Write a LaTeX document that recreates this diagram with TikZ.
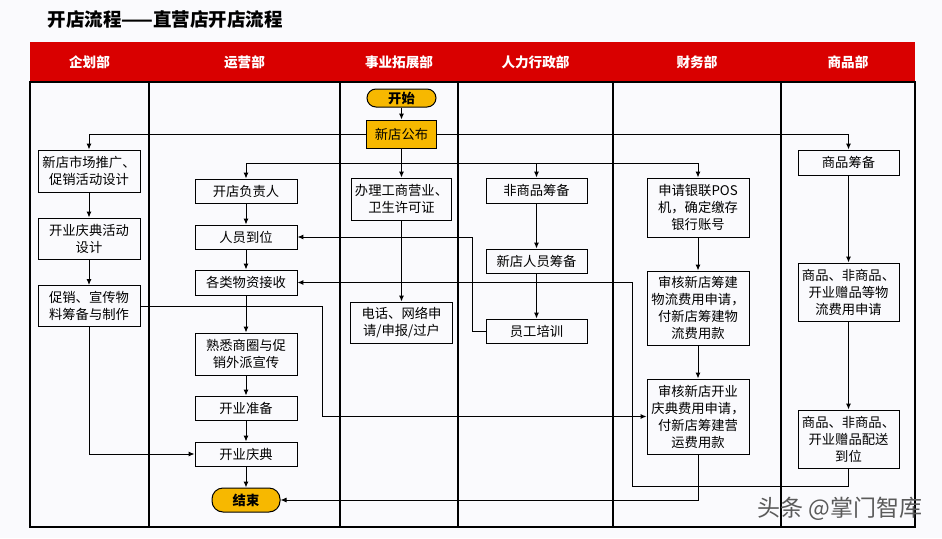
\documentclass[tikz,border=0pt]{standalone}
\usepackage{fontspec}
\setmainfont{Noto Sans CJK SC}
\usetikzlibrary{arrows.meta,calc}
\pgfdeclarelayer{bgl}
\pgfdeclarelayer{edges}
\pgfsetlayers{bgl,edges,main}
\definecolor{bgc}{RGB}{250,250,253}
\definecolor{hdr}{RGB}{217,0,0}
\definecolor{yel}{RGB}{247,184,0}
\definecolor{wm}{RGB}{90,90,90}
\begin{document}
\begin{tikzpicture}[x=1pt,y=-1pt,
  box/.style={draw=black, line width=0.9pt, fill=bgc, minimum width=102pt, inner sep=0pt, align=center, font=\fontsize{13.3}{17}\selectfont},
  pill/.style={draw=black, line width=1pt, fill=yel, rounded corners=9pt, inner sep=0pt, font=\bfseries\fontsize{13.3}{15}\selectfont},
  hd/.style={text=white, font=\bfseries\fontsize{13.6}{15}\selectfont},
  arr/.style={line width=1pt, -{Latex[length=6pt,width=5pt]}},
  ln/.style={line width=1pt},
  gridl/.style={line width=1.4pt}]
\useasboundingbox (0,0) rectangle (942,538);

% table
\begin{pgfonlayer}{bgl}
\fill[bgc] (0,0) rectangle (942,538);
\fill[hdr] (30,42) rectangle (915,82);
\draw[gridl] (30,82) rectangle (915,527);
\foreach \cx in {149,340,458,613,781} {\draw[gridl] (\cx,82) -- (\cx,527);}
\end{pgfonlayer}

% title
\node[anchor=west, font=\bfseries\fontsize{18.5}{21}\selectfont] (title) at (44,19) {开店流程——直营店开店流程};

\node[hd] (hA) at (89.5,62) {企划部};
\node[hd] (hB) at (244.5,62) {运营部};
\node[hd] (hC) at (399,62) {事业拓展部};
\node[hd] (hD) at (535.5,62) {人力行政部};
\node[hd] (hE) at (697,62) {财务部};
\node[hd] (hF) at (848,62) {商品部};

% nodes
\node[pill, minimum width=69pt, minimum height=18pt] (start) at (401.5,98) {开始};
\node[box, fill=yel, minimum width=70pt, minimum height=28pt] (pub) at (401.5,134) {新店公布};

\node[box, minimum height=42pt] (m1) at (89,171) {新店市场推广、\\促销活动设计};
\node[box, minimum height=41pt] (m2) at (89,238.5) {开业庆典活动\\设计};
\node[box, minimum height=41pt] (m3) at (89,306) {促销、宣传物\\料筹备与制作};

\node[box, minimum height=24pt] (o1) at (246,191) {开店负责人};
\node[box, minimum height=24pt] (o2) at (246,237) {人员到位};
\node[box, minimum height=25pt] (o3) at (246,282.5) {各类物资接收};
\node[box, minimum height=42pt] (o4) at (246,354) {熟悉商圈与促\\销外派宣传};
\node[box, minimum height=24pt] (o5) at (246,408) {开业准备};
\node[box, minimum height=24pt] (o6) at (246,454) {开业庆典};
\node[pill, minimum width=68pt, minimum height=24pt, rounded corners=11pt] (end) at (246,500) {结束};

\node[box, minimum width=100pt, minimum height=42pt] (b1) at (401.5,199) {办理工商营业、\\卫生许可证};
\node[box, minimum height=41pt] (b2) at (401.5,322.5) {电话、网络申\\请/申报/过户};

\node[box, minimum width=101pt, minimum height=25pt] (h1) at (536.5,190.5) {非商品筹备};
\node[box, minimum width=101pt, minimum height=24pt] (h2) at (536.5,261) {新店人员筹备};
\node[box, minimum width=101pt, minimum height=24pt] (h3) at (536.5,331) {员工培训};

\node[box, minimum height=59pt] (f1) at (698,207.5) {申请银联POS\\机，确定缴存\\银行账号};
\node[box, minimum height=74pt] (f2) at (698,308) {审核新店筹建\\物流费用申请，\\付新店筹建物\\流费用款};
\node[box, minimum height=75pt] (f3) at (698,416.5) {审核新店开业\\庆典费用申请，\\付新店筹建营\\运费用款};

\node[box, minimum width=101pt, minimum height=25pt] (g1) at (848.5,162.5) {商品筹备};
\node[box, minimum width=101pt, minimum height=58pt] (g2) at (848.5,292) {商品、非商品、\\开业赠品等物\\流费用申请};
\node[box, minimum width=101pt, minimum height=58pt] (g3) at (848.5,439) {商品、非商品、\\开业赠品配送\\到位};

\coordinate (bus) at (401.5,163);

% connectors
\begin{pgfonlayer}{edges}
\draw[arr] (start) -- (pub);
\draw[arr] (pub.west) -| (m1.north);
\draw[arr] (pub.east) -| (g1.north);
\draw[arr] (pub) -- (b1);
\draw[arr] (bus) -| (o1.north);
\draw[arr] (bus) -| (h1.north);
\draw[arr] (bus) -| (f1.north);
\draw[arr] (m1) -- (m2);
\draw[arr] (m2) -- (m3);
\draw[arr] (m3.south) |- (o6.west);
\draw[arr] (m3.east) -- ++(182,0) |- (f3.west);
\draw[arr] (o1) -- (o2);
\draw[arr] (o2) -- (o3);
\draw[arr] (o3) -- (o4);
\draw[arr] (o4) -- (o5);
\draw[arr] (o5) -- (o6);
\draw[arr] (o6) -- (end);
\draw[arr] (b1) -- (b2);
\draw[arr] (h1) -- (h2);
\draw[arr] (h2) -- (h3);
\draw[arr] (h3.west) -- ++(-13,0) |- (o2.east);
\draw[arr] (f1) -- (f2);
\draw[arr] (f2) -- (f3);
\draw[arr] (f3.south) |- (end.east);
\draw[arr] (g1) -- (g2);
\draw[arr] (g2) -- (g3);
\draw[arr] (g3.south) |- (632,486) |- (o3.east);
\end{pgfonlayer}

% watermark
\node[text=wm, font=\fontsize{23}{26}\selectfont] (wmk) at (840,509) {头条 @掌门智库};
\end{tikzpicture}
\end{document}
